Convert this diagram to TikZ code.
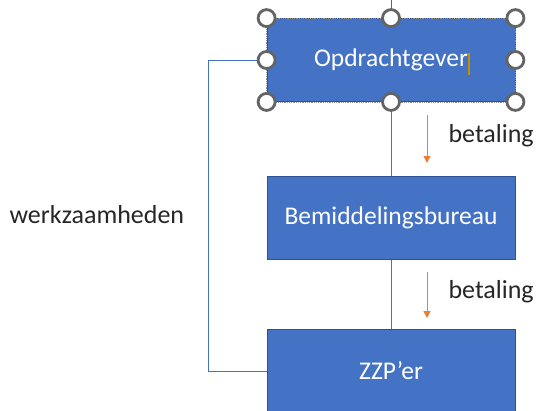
\documentclass[tikz,border=0pt]{standalone}
\usepackage{fontspec}
\setmainfont{Carlito}
\definecolor{boxblue}{RGB}{68,114,196}
\definecolor{boxedge}{RGB}{47,82,143}
\definecolor{payorange}{RGB}{237,125,49}
\definecolor{handlegray}{RGB}{100,100,100}
\definecolor{cursorgold}{RGB}{191,144,0}
\tikzset{
  party/.style={draw=boxedge, line width=0.8pt, fill=boxblue, text=white,
    minimum width=248pt, minimum height=83pt, inner sep=0pt,
    font=\fontsize{25.5}{30}\selectfont},
  handle/.style={circle, draw=handlegray, line width=2.8pt, fill=white,
    minimum size=17pt, inner sep=0pt},
  link/.style={draw=boxblue, line width=0.9pt},
  pay/.style={draw=payorange, line width=1pt, -{Triangle[length=7pt,width=7pt]}},
  lbl/.style={font=\fontsize{26}{30}\selectfont, text=black!85}
}
\usetikzlibrary{arrows.meta}
\begin{document}
\begin{tikzpicture}[x=1pt,y=-1pt]
  \useasboundingbox (0,0) rectangle (537,410);
  % parties
  \node[party] (opd) at (391,60) {Opdrachtgever};
  \node[party] (bem) at (391,218) {Bemiddelingsbureau};
  \node[party] (zzp) at (391,371) {ZZP'er};
  % connectors
  \draw[link] (opd.south) -- (bem.north);
  \draw[link] (bem.south) -- (zzp.north);
  \draw[link] (opd.west) -- ++(-58,0) |- (zzp.west);
  \node[lbl, anchor=west] (werk) at (6,215) {werkzaamheden};
  % payments
  \coordinate (p1s) at (427,115);
  \coordinate (p1e) at (427,163);
  \coordinate (p2s) at (427,272);
  \coordinate (p2e) at (427,318);
  \draw[pay] (p1s) -- (p1e);
  \draw[pay] (p2s) -- (p2e);
  \node[lbl, anchor=west] (bet1) at (445,136) {betaling};
  \node[lbl, anchor=west] (bet2) at (445,292) {betaling};
  % selection
  \draw[handlegray!70, densely dotted, line width=0.8pt]
    (opd.north west) rectangle (opd.south east);
  \coordinate (rot) at (391,0);
  \draw[handlegray, line width=1pt] (opd.north) -- (rot);
  \draw[cursorgold, line width=1.6pt] (469,53) -- (469,75);
  \foreach \a in {north west,north,north east,west,east,south west,south,south east}
    \node[handle] at (opd.\a) {};
\end{tikzpicture}
\end{document}
